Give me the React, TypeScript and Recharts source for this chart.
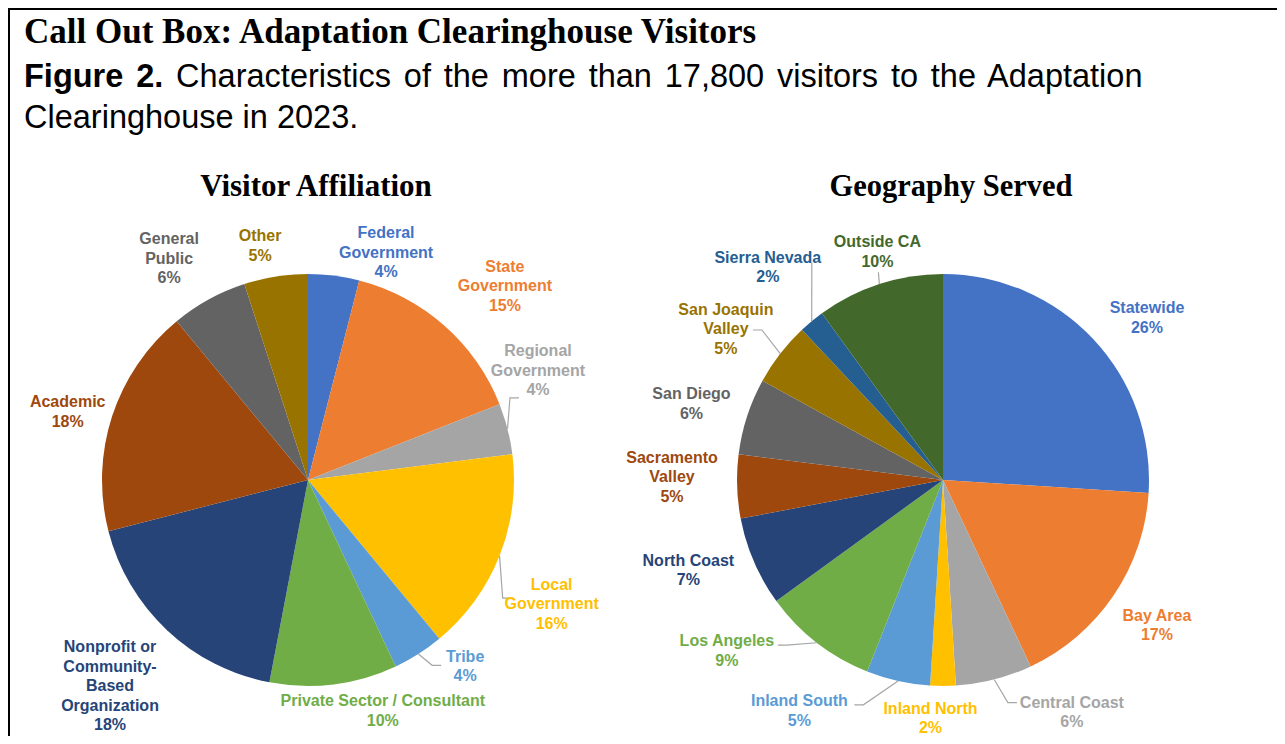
import { PieChart, Pie, Cell } from 'recharts';

const affiliationNames = [
  'Federal Government',
  'State Government',
  'Regional Government',
  'Local Government',
  'Tribe',
  'Private Sector / Consultant',
  'Nonprofit or Community-Based Organization',
  'Academic',
  'General Public',
  'Other',
];
const affiliationShares = [4, 15, 4, 16, 4, 10, 18, 18, 6, 5];

const geographyNames = [
  'Statewide',
  'Bay Area',
  'Central Coast',
  'Inland North',
  'Inland South',
  'Los Angeles',
  'North Coast',
  'Sacramento Valley',
  'San Diego',
  'San Joaquin Valley',
  'Sierra Nevada',
  'Outside CA',
];
const geographyShares = [26, 17, 6, 2, 5, 9, 7, 5, 6, 5, 2, 10];

const affColors = ['#4472C4', '#ED7D31', '#A5A5A5', '#FFC000', '#5B9BD5', '#70AD47', '#264478', '#9E480E', '#636363', '#997300'];
const geoColors = ['#4472C4', '#ED7D31', '#A5A5A5', '#FFC000', '#5B9BD5', '#70AD47', '#264478', '#9E480E', '#636363', '#997300', '#255E91', '#43682B'];

// how the data labels wrap
const labelLines: Record<string, string[]> = {
  'Federal Government': ['Federal', 'Government'],
  'State Government': ['State', 'Government'],
  'Regional Government': ['Regional', 'Government'],
  'Local Government': ['Local', 'Government'],
  'Nonprofit or Community-Based Organization': ['Nonprofit or', 'Community-', 'Based', 'Organization'],
  'General Public': ['General', 'Public'],
  'Sacramento Valley': ['Sacramento', 'Valley'],
  'San Joaquin Valley': ['San Joaquin', 'Valley'],
};

// label placement: [distance from centre, angle shift from slice middle (deg, clockwise)]
const affLabelPlace = [[241, 11.7], [277, 3.9], [255, -11.2], [273, 5.2], [243, -7.9], [242, -10.8], [285, 0.8], [250, -2], [262, -3.2], [240, -2.5]];
const geoLabelPlace = [[261, 4.6], [258, -0.2], [265, -14.7], [238, 3], [271, 19.4], [275, 14], [270, 4], [271, 2.6], [263, -1], [265, -2.8], [276, 0.2], [238, 2]];

// leader lines: [end dx, end dy from label centre, tail direction]
const affLeaders: Record<number, number[]> = { 2: [-19, 28, 1], 3: [-40, -5, 1], 4: [-24, 0, 1] };
const geoLeaders: Record<number, number[]> = { 2: [-55, -9, 1], 4: [55, -5, -1], 5: [51, -5, -1], 9: [27, 2, -1], 10: [44, -4, 0], 11: [1, 21, 0] };

const RAD = Math.PI / 180;
const LH = 19.5;

const affData = affiliationNames.map((name, i) => ({ name, value: affiliationShares[i] }));
const geoData = geographyNames.map((name, i) => ({ name, value: geographyShares[i] }));

const makeLabel = (place: number[][], leaders: Record<number, number[]>, colors: string[]) => (props: any) => {
  const { cx, cy, midAngle, outerRadius, index, name, value } = props;
  const theta = 90 - midAngle;
  const [dist, delta] = place[index];
  const a = (theta + delta) * RAD;
  const lx = cx + dist * Math.sin(a);
  const ly = cy - dist * Math.cos(a);
  const lines = [...(labelLines[name] ?? [name]), `${value}%`];
  const top = ly - ((lines.length - 1) * LH) / 2 + 6;
  const l = leaders[index];
  let leader = null;
  if (l) {
    const t = theta * RAD;
    const sx = cx + outerRadius * Math.sin(t);
    const sy = cy - outerRadius * Math.cos(t);
    const ex = lx + l[0];
    const ey = ly + l[1];
    const bx = ex - l[2] * 9;
    leader = (
      <polyline points={`${sx},${sy} ${bx},${ey} ${ex},${ey}`} fill="none" stroke="#A6A6A6" strokeWidth={1.2} />
    );
  }
  return (
    <g key={`lbl-${index}`}>
      {leader}
      <text
        x={lx}
        textAnchor="middle"
        fill={colors[index]}
        fontFamily="'Liberation Sans', Arial, sans-serif"
        fontWeight={700}
        fontSize={16}
      >
        {lines.map((s, i) => (
          <tspan key={i} x={lx} y={top + i * LH}>
            {s}
          </tspan>
        ))}
      </text>
    </g>
  );
};

export default function App() {
  // height kept at 728 so the page (with its 8px body margins) does not scroll
  return (
    <div style={{ position: 'relative', width: 1277, height: 728, overflow: 'hidden' }}>
      <div
        style={{
          position: 'absolute',
          left: 0,
          top: 0,
          width: 1277,
          height: 736,
          borderTop: '2px solid #000',
          borderLeft: '2px solid #000',
          boxSizing: 'border-box',
        }}
      />
      <div style={{ position: 'absolute', left: 0, top: 0 }}>
        <PieChart width={1277} height={736} margin={{ top: 0, right: 0, bottom: 0, left: 0 }}>
          <Pie
            data={affData}
            dataKey="value"
            nameKey="name"
            cx={300}
            cy={472}
            outerRadius={206}
            startAngle={90}
            endAngle={-270}
            stroke="none"
            isAnimationActive={false}
            label={makeLabel(affLabelPlace, affLeaders, affColors)}
            labelLine={false}
          >
            {affData.map((d, i) => (
              <Cell key={d.name} fill={affColors[i]} />
            ))}
          </Pie>
          <Pie
            data={geoData}
            dataKey="value"
            nameKey="name"
            cx={935}
            cy={472}
            outerRadius={206}
            startAngle={90}
            endAngle={-270}
            stroke="none"
            isAnimationActive={false}
            label={makeLabel(geoLabelPlace, geoLeaders, geoColors)}
            labelLine={false}
          >
            {geoData.map((d, i) => (
              <Cell key={d.name} fill={geoColors[i]} />
            ))}
          </Pie>
        </PieChart>
      </div>
      <svg width={1277} height={736} style={{ position: 'absolute', left: 0, top: 0, pointerEvents: 'none' }}>
        <text x={16} y={35} fontFamily="'Liberation Serif', serif" fontWeight={700} fontSize={35} fill="#000">
          Call Out Box: Adaptation Clearinghouse Visitors
        </text>
        <text x={16} y={79} fontFamily="'Liberation Sans', Arial, sans-serif" fontSize={32.5} wordSpacing={3.8} fill="#000">
          <tspan fontWeight={700}>Figure 2.</tspan>
          {' Characteristics of the more than 17,800 visitors to the Adaptation'}
        </text>
        <text x={16} y={120} fontFamily="'Liberation Sans', Arial, sans-serif" fontSize={32.5} fill="#000">
          Clearinghouse in 2023.
        </text>
        <text x={308} y={188} textAnchor="middle" fontFamily="'Liberation Serif', serif" fontWeight={700} fontSize={31} fill="#000">
          Visitor Affiliation
        </text>
        <text x={943} y={188} textAnchor="middle" fontFamily="'Liberation Serif', serif" fontWeight={700} fontSize={30.5} fill="#000">
          Geography Served
        </text>
      </svg>
    </div>
  );
}
